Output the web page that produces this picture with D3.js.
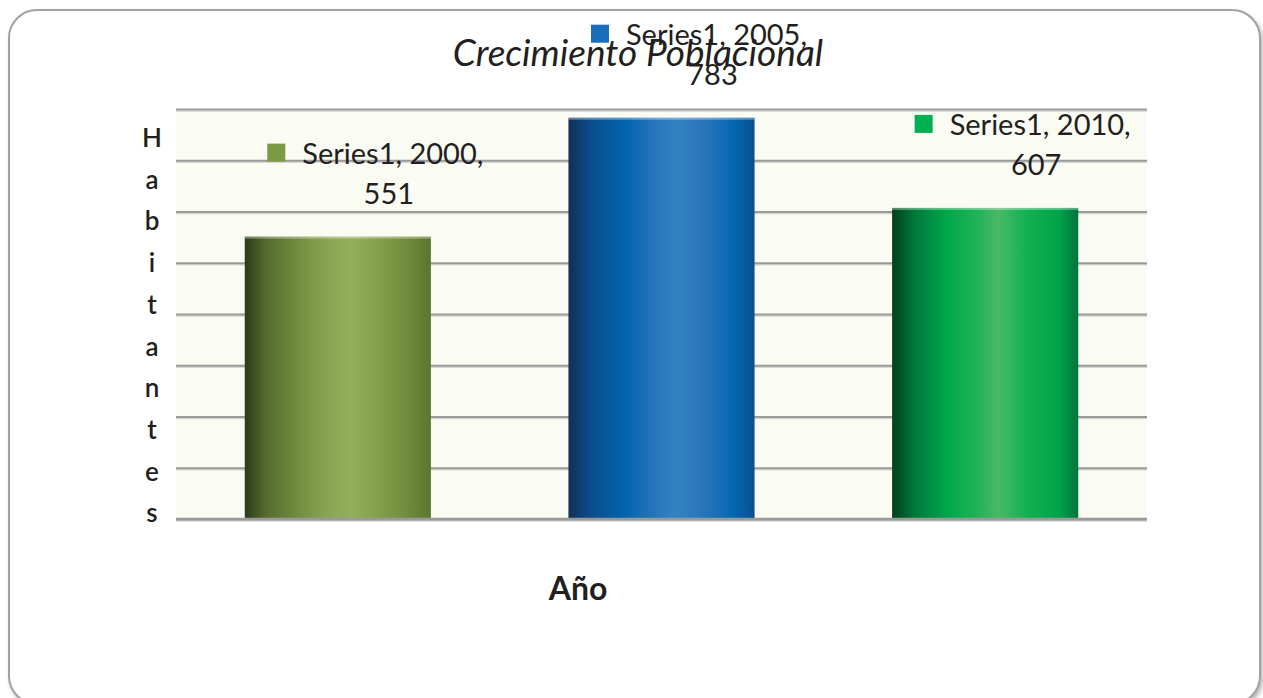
<!DOCTYPE html>
<html lang="es">

<head>
  <meta charset="utf-8">
  <title> Crecimiento Poblacional </title>
  <script src="https://d3js.org/d3.v7.min.js"></script>
  <style>
    body {
      margin: 0;
      background: #fff;
      font-family: Lato, "Liberation Sans", sans-serif;
    }

    .grid line {
      stroke: #9a9a98;
      stroke-width: 2.2px;
    }

    .grid path {
      display: none;
    }

    .lbl {
      font-size: 29px;
      fill: #231f20;
    }
  </style>
</head>

<body>
  <script>
    // Data
    var years = ["2000", "2005", "2010"];
    var values = [551, 783, 607];
    var seriesName = "Series1";
    var yTicks = [0, 100, 200, 300, 400, 500, 600, 700, 800];

    // gradient stops for each bar (left -> right)
    var barStops = [
      ["#2b3a1b", "#566d2f", "#748f42", "#8aa654", "#94ae5b", "#84a04a", "#6c8739", "#5b7530"],
      ["#122f55", "#0b4d8c", "#0363ae", "#2374b8", "#3382c2", "#2a76ba", "#0565b0", "#0a4f8f"],
      ["#003f1a", "#00783a", "#00a84b", "#1fb257", "#4ab866", "#13b153", "#00a34a", "#00733a"]
    ];
    var keyColors = ["#7b9a44", "#1a6dba", "#00b050"];

    var W = 1263, H = 698;
    var margin = { left: 176, right: 116, top: 109, bottom: 179 };
    var innerW = W - margin.left - margin.right;
    var innerH = H - margin.top - margin.bottom;

    var svg = d3.select("body")
      .append("svg")
      .attr("width", W)
      .attr("height", H);

    var defs = svg.append("defs");

    // drop shadow for frame
    var sh = defs.append("filter").attr("id", "shadow")
      .attr("x", "-5%").attr("y", "-5%").attr("width", "110%").attr("height", "110%");
    sh.append("feDropShadow").attr("dx", 2).attr("dy", 3).attr("stdDeviation", 2)
      .attr("flood-color", "#888").attr("flood-opacity", 0.6);

    // Outer frame
    svg.append("rect")
      .attr("x", 9).attr("y", 10)
      .attr("width", 1251).attr("height", 694)
      .attr("rx", 28).attr("ry", 28)
      .attr("fill", "#fff")
      .attr("stroke", "#a2a2a2")
      .attr("stroke-width", 2)
      .attr("filter", "url(#shadow)");

    var g = svg.append("g")
      .attr("transform", "translate(" + margin.left + "," + margin.top + ")");

    var x = d3.scaleBand()
      .domain(years)
      .range([0, innerW])
      .paddingInner(0.425)
      .paddingOuter(0.2125);

    var y = d3.scaleLinear()
      .domain([0, 800])
      .range([innerH, 0]);

    // plot background
    g.append("rect")
      .attr("width", innerW)
      .attr("height", innerH)
      .attr("fill", "#fafbf3");

    // gridlines shadow + lines
    g.selectAll(".gshadow")
      .data(yTicks)
      .enter().append("line")
      .attr("class", "gshadow")
      .attr("x1", 0).attr("x2", innerW)
      .attr("y1", function(d) { return y(d) + 2; })
      .attr("y2", function(d) { return y(d) + 2; })
      .attr("stroke", "#d6d6d2")
      .attr("stroke-width", 1.5);

    g.append("g")
      .attr("class", "grid")
      .call(d3.axisLeft(y).tickValues(yTicks).tickSize(-innerW).tickFormat(""));

    // gradients
    barStops.forEach(function(stops, i) {
      var lg = defs.append("linearGradient")
        .attr("id", "grad" + i)
        .attr("x1", "0%").attr("x2", "100%").attr("y1", "0%").attr("y2", "0%");
      var offs = [0, 0.12, 0.3, 0.45, 0.57, 0.72, 0.9, 1];
      stops.forEach(function(c, j) {
        lg.append("stop").attr("offset", offs[j]).attr("stop-color", c);
      });
    });

    var bars = g.selectAll(".bar")
      .data(values)
      .enter().append("g")
      .attr("class", "bar");

    bars.append("rect")
      .attr("x", function(d, i) { return x(years[i]); })
      .attr("y", function(d) { return y(d); })
      .attr("width", x.bandwidth())
      .attr("height", function(d) { return innerH - y(d); })
      .attr("fill", function(d, i) { return "url(#grad" + i + ")"; });

    // soft top edge highlight
    bars.append("rect")
      .attr("x", function(d, i) { return x(years[i]); })
      .attr("y", function(d) { return y(d); })
      .attr("width", x.bandwidth())
      .attr("height", 2)
      .attr("fill", "#ffffff")
      .attr("opacity", 0.35);

    // baseline redraw over bars
    g.append("line")
      .attr("x1", 0).attr("x2", innerW)
      .attr("y1", y(0)).attr("y2", y(0))
      .attr("stroke", "#9a9a98")
      .attr("stroke-width", 2.5);

    // Title
    svg.append("text")
      .attr("x", 638)
      .attr("y", 66)
      .attr("text-anchor", "middle")
      .style("font-size", "37px")
      .style("font-style", "italic")
      .style("font-weight", "normal")
      .style("fill", "#231f20")
      .text("Crecimiento Poblacional");

    // Data labels
    var labels = g.selectAll(".dl")
      .data(values)
      .enter().append("g")
      .attr("class", "dl");

    labels.each(function(d, i) {
      var sel = d3.select(this);
      var cx = x(years[i]) + x.bandwidth() / 2 + 55;
      var base2 = y(d) - 33;
      var base1 = base2 - 40;
      var t1 = sel.append("text")
        .attr("class", "lbl")
        .attr("x", cx)
        .attr("y", base1)
        .attr("text-anchor", "middle")
        .text(seriesName + ", " + years[i] + ",");
      var tw = t1.node().getComputedTextLength();
      sel.append("rect")
        .attr("x", cx - tw / 2 - 35)
        .attr("y", base1 - 20)
        .attr("width", 18)
        .attr("height", 18)
        .attr("fill", keyColors[i]);
      sel.append("text")
        .attr("class", "lbl")
        .attr("x", cx - 4)
        .attr("y", base2)
        .attr("text-anchor", "middle")
        .text(d);
    });

    // Y axis title, letters stacked
    var yTitle = "Habitantes".split("");
    svg.append("g").selectAll("text")
      .data(yTitle)
      .enter().append("text")
      .attr("x", 152)
      .attr("y", function(d, i) { return 147 + i * 41.7; })
      .attr("text-anchor", "middle")
      .style("font-size", "26px")
      .style("font-weight", "600")
      .style("fill", "#231f20")
      .text(function(d) { return d; });

    // X axis title
    svg.append("text")
      .attr("x", 578)
      .attr("y", 600)
      .attr("text-anchor", "middle")
      .style("font-size", "32px")
      .style("font-weight", "bold")
      .style("fill", "#231f20")
      .text("Año");
  </script>
</body>

</html>
